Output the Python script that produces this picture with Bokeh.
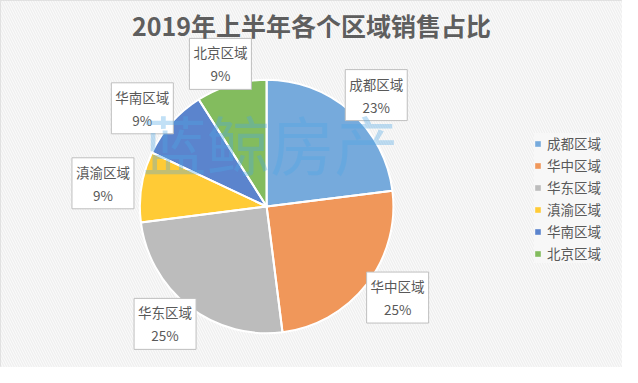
import numpy as np
from bokeh.plotting import figure
from bokeh.models import ColumnDataSource, Range1d, Label, Legend, LegendItem, BoxAnnotation
from bokeh.core.properties import value
from bokeh.embed import file_html
from bokeh.resources import INLINE

# ---- data ----
title_text = "2019年上半年各个区域销售占比"
regions = ["成都区域", "华中区域", "华东区域", "滇渝区域", "华南区域", "北京区域"]
shares = [23, 25, 25, 9, 9, 9]
colors = ["#76AADC", "#F0975A", "#BCBCBC", "#FFCB36", "#5B84CD", "#83BC5E"]
watermark = "蓝鲸房产"

# ---- layout (reference-pixel data space, y up) ----
W, H = 622, 367
CX, CY, R = 273, 168, 130
LRX, LRY = 170, 155
FONT = "Noto Sans CJK SC"
TXT = "#595959"

frac = np.array(shares, dtype=float) / sum(shares)
cum = np.concatenate([[0.0], np.cumsum(frac)])
start = np.pi / 2 - 2 * np.pi * cum[:-1]
end = np.pi / 2 - 2 * np.pi * cum[1:]
mid = (start + end) / 2

src = ColumnDataSource(dict(
    region=regions, share=shares, color=colors,
    start=start, end=end,
    lx=CX + LRX * np.cos(mid), ly=CY + LRY * np.sin(mid),
    label=[f"{r}\n{s}%" for r, s in zip(regions, shares)],
))

p = figure(width=W, height=H, output_backend="svg", toolbar_location=None,
           x_range=Range1d(0, 638), y_range=Range1d(0, 383),
           x_axis_location=None, y_axis_location=None, min_border=0)
p.grid.visible = False
p.outline_line_color = "#D9D9D9"
p.background_fill_color = "#EFEFEF"
p.border_fill_color = "#EFEFEF"

bg = BoxAnnotation(fill_color="#EFEFEF", fill_alpha=1.0, line_color=None,
                   hatch_pattern="\\", hatch_color="white", hatch_alpha=0.8,
                   hatch_scale=5, hatch_weight=1, level="underlay")
p.add_layout(bg)

fill_r = p.wedge(x=CX, y=CY, radius=R, start_angle="start", end_angle="end",
                 direction="clock", fill_color="color", line_color=None, source=src)
p.wedge(x=CX, y=CY, radius=R, start_angle="start", end_angle="end",
        direction="clock", fill_alpha=0, line_color="white", line_width=2, source=src)

p.text(x="lx", y="ly", text="label", source=src, text_align="center",
       text_baseline="middle", text_font=value(FONT), text_font_size="13.5px",
       text_color=TXT, text_line_height=1.15, background_fill_color="white",
       border_line_color="#BFBFBF", border_line_width=1, padding=4)

p.add_layout(Label(x=319, y=357, text=title_text, text_align="center",
                   text_baseline="middle", text_font=FONT, text_font_size="25px",
                   text_font_style="bold", text_color="#5E5E5E"))

p.add_layout(Label(x=277, y=235, text=watermark, text_align="center",
                   text_baseline="middle", text_font=FONT, text_font_size="64px",
                   text_color="#4DA6E6", text_alpha=0.35))

legend = Legend(items=[LegendItem(label=regions[i], renderers=[fill_r], index=i)
                       for i in range(len(regions))],
                location=(534, 104), glyph_width=7, glyph_height=7,
                label_standoff=6, label_height=19, spacing=2, padding=5,
                label_text_font=FONT, label_text_font_size="13.5px",
                label_text_color=TXT, background_fill_color="#F7F7F7",
                background_fill_alpha=0.9, border_line_color=None)
p.add_layout(legend)

open("out.html", "w").write(file_html(p, INLINE))
